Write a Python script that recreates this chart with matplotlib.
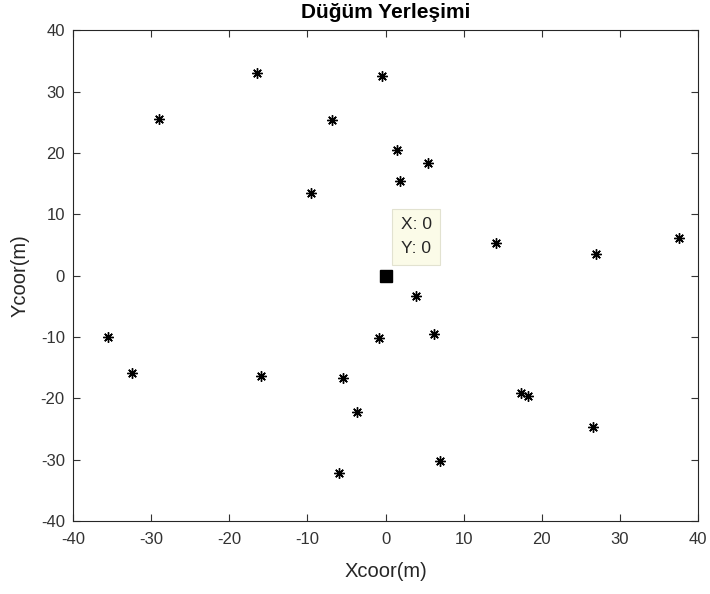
import matplotlib.pyplot as plt

plt.rcParams['font.family'] = ['Liberation Sans', 'DejaVu Sans']
plt.rcParams['axes.unicode_minus'] = False

# node coordinates (m)
node_x = [-16.5, -0.5, -29.0, -6.8, 1.5, 5.5, 1.8, -9.5, 14.2, 27.0, 37.6, 3.9,
          6.2, -0.9, -35.5, -32.4, -16.0, -5.4, -3.7, 17.4, 18.2, 26.6, -6.0, 7.0]
node_y = [33.0, 32.5, 25.5, 25.3, 20.5, 18.4, 15.5, 13.5, 5.3, 3.6, 6.2, -3.3,
          -9.5, -10.2, -10.0, -15.9, -16.4, -16.7, -22.2, -19.2, -19.7, -24.7, -32.2, -30.3]
sink_x = [0]
sink_y = [0]
ticks = [-40, -30, -20, -10, 0, 10, 20, 30, 40]

fig = plt.figure(figsize=(7.1, 5.94), dpi=100)
ax = fig.add_axes([0.103, 0.123, 0.880, 0.826])

ax.plot(node_x, node_y, linestyle='none', marker=(8, 2, 0), markersize=7.5,
        color='black', markeredgewidth=1.0)
ax.plot(sink_x, sink_y, linestyle='none', marker='s', markersize=8.5,
        color='black')

ax.annotate('X: 0\nY: 0', xy=(sink_x[0], sink_y[0]), xytext=(11, 16),
            textcoords='offset points', fontsize=12.5, color='#262626',
            linespacing=1.75,
            bbox=dict(boxstyle='square,pad=0.5', facecolor='#fbfbe8',
                      edgecolor='#e2e2d0', linewidth=0.8))

ax.set_xlim(-40, 40)
ax.set_ylim(-40, 40)
ax.set_xticks(ticks)
ax.set_yticks(ticks)
ax.tick_params(direction='in', length=5, top=True, right=True,
               labeltop=False, labelright=False, labelsize=12,
               colors='#333333', width=0.8)
ax.tick_params(axis='x', pad=8)
ax.tick_params(axis='y', pad=6)
for s in ax.spines.values():
    s.set_color('#262626')
    s.set_linewidth(0.8)

ax.set_xlabel('Xcoor(m)', fontsize=14.5, color='#262626', labelpad=11)
ax.set_ylabel('Ycoor(m)', fontsize=14.5, color='#262626', labelpad=8)
ax.set_title('Düğüm Yerleşimi', fontsize=15, fontweight='bold', pad=9)

fig.savefig('out.png', dpi=100)
